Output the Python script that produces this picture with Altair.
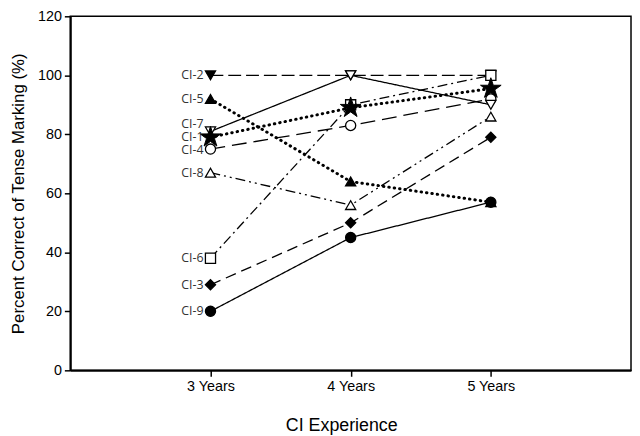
import altair as alt
import pandas as pd

years = [3, 4, 5]
series = ["CI-1", "CI-2", "CI-3", "CI-4", "CI-5", "CI-6", "CI-7", "CI-8", "CI-9"]
values = {
    "CI-1": [79, 89, 95.5],
    "CI-2": [100, 100, 100],
    "CI-3": [29, 50, 79],
    "CI-4": [75, 83, 92],
    "CI-5": [92, 64, 57],
    "CI-6": [38, 90, 100],
    "CI-7": [81, 100, 90],
    "CI-8": [67, 56, 86],
    "CI-9": [20, 45, 57],
}
label_y = {"CI-1": 79, "CI-2": 100, "CI-3": 29, "CI-4": 74.5, "CI-5": 92,
           "CI-6": 38, "CI-7": 83.5, "CI-8": 67, "CI-9": 20}

# drawing order (later drawn on top)
draw_order = ["CI-2", "CI-6", "CI-5", "CI-9", "CI-3", "CI-8", "CI-4", "CI-7", "CI-1"]

star = ("M0,-1L0.2245,-0.309L0.951,-0.309L0.363,0.118L0.588,0.809L0,0.382"
        "L-0.588,0.809L-0.363,0.118L-0.951,-0.309L-0.2245,-0.309Z")
marker_order = [s for s in draw_order if s != "CI-1"]
shapes = {"CI-2": "triangle-down", "CI-3": "diamond", "CI-4": "circle",
          "CI-5": "triangle-up", "CI-6": "square", "CI-7": "triangle-down",
          "CI-8": "triangle-up", "CI-9": "circle"}
fills = {"CI-2": "black", "CI-3": "black", "CI-4": "white",
         "CI-5": "black", "CI-6": "white", "CI-7": "white", "CI-8": "white",
         "CI-9": "black"}
dashes = {"CI-1": [0.5, 5], "CI-2": [13, 5], "CI-3": [11, 6], "CI-4": [15, 7],
          "CI-5": [0.5, 5], "CI-6": [10, 4, 2, 4], "CI-7": [1, 0],
          "CI-8": [10, 4, 2, 4, 2, 4], "CI-9": [1, 0]}

rows = []
for s in draw_order:
    for i, yr in enumerate(years):
        rows.append({"series": s, "year": yr, "value": values[s][i], "ord": draw_order.index(s)})
df = pd.DataFrame(rows)
lab = pd.DataFrame({"series": series, "year": [3] * len(series),
                    "ly": [label_y[s] for s in series]})

x = alt.X("year:Q", scale=alt.Scale(domain=[2, 6], nice=False),
          axis=alt.Axis(values=years, labelExpr="datum.value + ' Years'",
                        title="CI Experience", titlePadding=24, titleX=274,
                        titleFontSize=18))
y = alt.Y("value:Q", scale=alt.Scale(domain=[0, 120], nice=False),
          axis=alt.Axis(values=[0, 20, 40, 60, 80, 100, 120],
                        title="Percent Correct of Tense Marking (%)", titlePadding=10,
                        titleFontSize=17))

dash_scale = alt.Scale(domain=draw_order, range=[dashes[s] for s in draw_order])

solid_lines = alt.Chart(df).transform_filter(
    "datum.series != 'CI-1' && datum.series != 'CI-5'"
).mark_line(color="black", strokeWidth=1.3).encode(
    x=x, y=y, detail="series:N",
    strokeDash=alt.StrokeDash("series:N", scale=dash_scale, legend=None),
)
dot_lines = alt.Chart(df).transform_filter(
    "datum.series == 'CI-1' || datum.series == 'CI-5'"
).mark_line(color="black", strokeWidth=3, strokeCap="round").encode(
    x=x, y=y, detail="series:N",
    strokeDash=alt.StrokeDash("series:N", scale=dash_scale, legend=None),
)
points = alt.Chart(df).transform_filter("datum.series != 'CI-1'").mark_point(
    filled=False, stroke="black", strokeWidth=1.3, opacity=1, size=105).encode(
    x=x, y=y,
    shape=alt.Shape("series:N", scale=alt.Scale(domain=marker_order, range=[shapes[s] for s in marker_order]), legend=None),
    fill=alt.Fill("series:N", scale=alt.Scale(domain=marker_order, range=[fills[s] for s in marker_order]), legend=None),
    order=alt.Order("ord:Q"),
)
stars = alt.Chart(df).transform_filter("datum.series == 'CI-1'").mark_point(
    shape=star, filled=True, fill="black", stroke="black", strokeWidth=1, opacity=1, size=480).encode(
    x=x, y=y)
labels = alt.Chart(lab).mark_text(align="right", baseline="middle", dx=-7, fontSize=12.5,
                                  font="Open Sans", color="#333").encode(
    x=alt.X("year:Q"), y=alt.Y("ly:Q"), text="series:N")

chart = alt.layer(solid_lines, dot_lines, points, stars, labels).properties(
    width=567, height=358,
    autosize=alt.AutoSizeParams(type="none"),
    padding={"left": 63, "top": 6, "right": 1, "bottom": 64},
).configure_view(stroke="black", strokeWidth=1.5).configure_axis(
    grid=False, domainColor="black", domainWidth=2, tickColor="black", tickWidth=1.5,
    tickSize=6, labelFont="Liberation Sans", labelFontSize=14.5, labelColor="black",
    titleFont="Liberation Sans", titleFontWeight="normal", titleColor="black",
    labelPadding=3,
)
chart.save("out.html", embed_options={"renderer": "svg", "actions": False})
